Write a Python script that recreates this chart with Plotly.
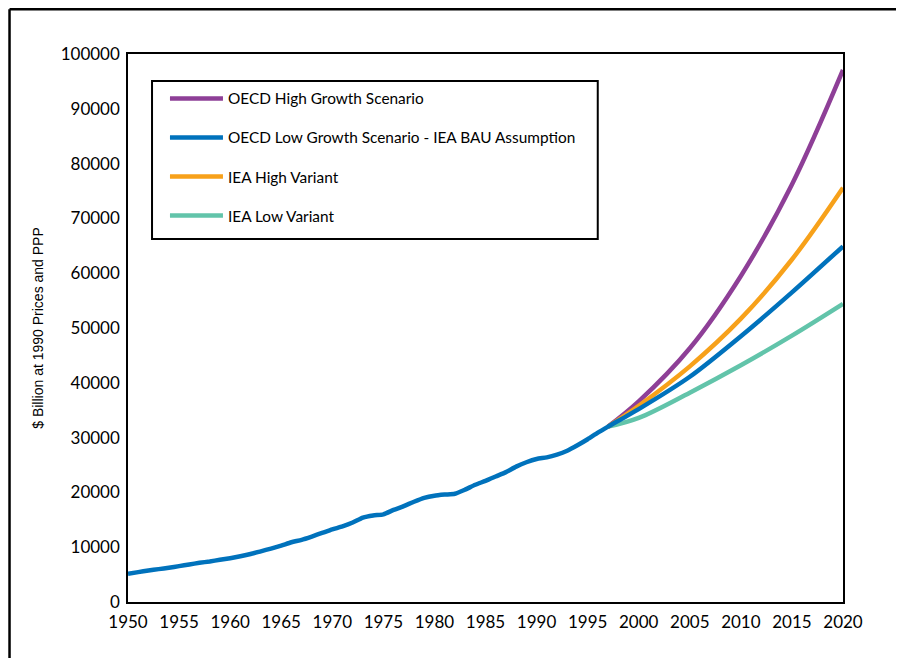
import plotly.graph_objects as go

# historical world GDP, $ billion at 1990 prices and PPP
hist_years = list(range(1950, 1998))
hist_gdp = [5170, 5450, 5750, 6000, 6250, 6550, 6850, 7150, 7400, 7700,
            8000, 8350, 8750, 9250, 9750, 10300, 10900, 11350, 11950, 12600,
            13250, 13800, 14500, 15400, 15800, 16000, 16800, 17500, 18300, 19000,
            19400, 19600, 19750, 20500, 21400, 22100, 22900, 23700, 24700, 25500,
            26100, 26400, 26900, 27600, 28600, 29700, 30900, 32000]

# projections
proj_years = [1997, 2000, 2005, 2010, 2015, 2020]
oecd_high = [32000, 36600, 46300, 59500, 76200, 97100]
oecd_low = [32000, 35200, 41100, 48500, 56500, 64900]
iea_high = [32000, 35800, 43000, 51700, 62500, 75600]
iea_low = [32000, 33600, 38200, 43200, 48600, 54400]

names = ["OECD High Growth Scenario",
         "OECD Low Growth Scenario - IEA BAU Assumption",
         "IEA High Variant",
         "IEA Low Variant"]
colors = ["#8E3F97", "#0072BC", "#F7A11A", "#62C4AA"]

fig = go.Figure()

fig.add_trace(go.Scatter(x=proj_years, y=iea_low, name=names[3], mode="lines",
                         line=dict(color=colors[3], width=4.5, shape="spline"),
                         legendrank=4, legendgroup="d"))
fig.add_trace(go.Scatter(x=proj_years, y=oecd_high, name=names[0], mode="lines",
                         line=dict(color=colors[0], width=4.5, shape="spline"),
                         legendrank=1, legendgroup="a"))
fig.add_trace(go.Scatter(x=proj_years, y=iea_high, name=names[2], mode="lines",
                         line=dict(color=colors[2], width=4.5, shape="spline"),
                         legendrank=3, legendgroup="c"))
fig.add_trace(go.Scatter(x=hist_years + proj_years[1:], y=hist_gdp + oecd_low[1:],
                         name=names[1], mode="lines",
                         line=dict(color=colors[1], width=4.5, shape="spline", smoothing=0.6),
                         legendrank=2, legendgroup="b"))

# outer frame (top and left edges only)
fig.add_shape(type="line", xref="paper", yref="paper", x0=-0.1657, x1=1.1,
              y0=1.0818, y1=1.0818, line=dict(color="black", width=2.5))
fig.add_shape(type="line", xref="paper", yref="paper", x0=-0.1657, x1=-0.1657,
              y0=-0.12, y1=1.0818, line=dict(color="black", width=2.5))
# legend box
fig.add_shape(type="rect", xref="paper", yref="paper", x0=0.0336, x1=0.657,
              y0=0.6624, y1=0.9507, layer="below", fillcolor="white",
              line=dict(color="black", width=2))

fig.update_layout(
    width=896,
    height=651,
    margin=dict(l=120, r=61, t=46, b=57),
    paper_bgcolor="white",
    plot_bgcolor="white",
    font=dict(family="Lato", size=17, color="black"),
    showlegend=True,
    legend=dict(
        x=0.0517, y=0.949, xanchor="left", yanchor="top",
        borderwidth=0, bgcolor="rgba(0,0,0,0)",
        font=dict(family="Lato", size=15.4, color="black"),
        tracegroupgap=16, itemwidth=53,
    ),
    xaxis=dict(
        range=[1950, 2020], tickvals=list(range(1950, 2021, 5)),
        showgrid=False, zeroline=False, automargin=False,
        showline=True, linecolor="black", linewidth=1.5, mirror=True,
        ticks="", ticklabelstandoff=4,
    ),
    yaxis=dict(
        range=[0, 100000], tickvals=list(range(0, 100001, 10000)),
        tickformat="d",
        showgrid=False, zeroline=False, automargin=False,
        showline=True, linecolor="black", linewidth=1.5, mirror=True,
        ticks="", ticklabelstandoff=3,
        title=dict(text="$ Billion at 1990 Prices and PPP",
                   font=dict(family="Liberation Sans", size=14), standoff=14),
    ),
)

fig.write_html("out.html")
